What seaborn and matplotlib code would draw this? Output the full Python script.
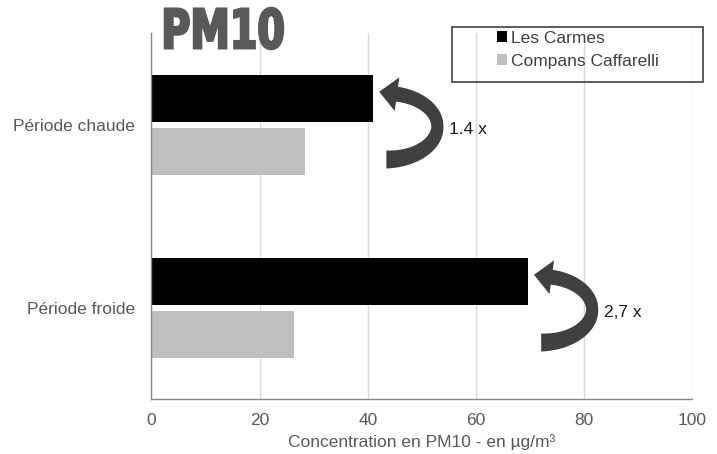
import numpy as np
import pandas as pd
import seaborn as sns
import matplotlib.pyplot as plt
from matplotlib.textpath import TextPath
from matplotlib.patches import PathPatch, Polygon, Rectangle
from matplotlib.font_manager import FontProperties
from matplotlib.transforms import Affine2D, IdentityTransform

# --- data -------------------------------------------------------------
periodes = ["Période chaude", "Période froide"]
stations = ["Les Carmes", "Compans Caffarelli"]
les_carmes = [41.0, 69.6]
compans_caffarelli = [28.4, 26.3]
ratios = ["1.4 x", "2,7 x"]
x_ticks = [0, 20, 40, 60, 80, 100]
couleurs = ["#000000", "#bfbfbf"]

df = pd.DataFrame({
    "periode": periodes * 2,
    "station": [stations[0]] * len(periodes) + [stations[1]] * len(periodes),
    "valeur": les_carmes + compans_caffarelli,
})

sns.set_style("white")
plt.rcParams["font.family"] = ["Liberation Sans", "DejaVu Sans"]
FS = 12.5
GRIS_TEXTE = "#595959"

fig = plt.figure(figsize=(7.17, 4.54), dpi=100)
ax = fig.add_axes([0.2110, 0.1205, 0.7548, 0.8062])

sns.barplot(data=df, x="valeur", y="periode", hue="station",
            order=periodes, hue_order=stations, palette=couleurs,
            orient="h", width=0.58, gap=0.11, errorbar=None,
            linewidth=0, saturation=1, ax=ax)

ax.set_xlim(0, 100)
ax.set_ylim(1.5, -0.5)
ax.set_xticks(x_ticks)
ax.set_xticklabels([str(t) for t in x_ticks])
ax.grid(axis="x", color="#d9d9d9", lw=1)
ax.set_axisbelow(True)
for side in ("top", "right"):
    ax.spines[side].set_visible(False)
for side in ("left", "bottom"):
    ax.spines[side].set_color("#868686")
    ax.spines[side].set_linewidth(1.0)
ax.tick_params(axis="both", length=0, labelsize=FS, labelcolor=GRIS_TEXTE)
ax.tick_params(axis="y", pad=11.5)
ax.tick_params(axis="x", pad=10)
ax.set_ylabel("")
ax.set_xlabel("Concentration en PM10 - en µg/m³", fontsize=FS,
              color=GRIS_TEXTE, labelpad=4)

# --- legend inside its own frame -------------------------------------
handles, labels = ax.get_legend_handles_labels()
ax.get_legend().remove()
ax.legend(handles, labels, frameon=False, loc="upper left",
          bbox_to_anchor=(0.6925, 0.9324), bbox_transform=fig.transFigure,
          borderpad=0, borderaxespad=0, handlelength=0.62, handleheight=0.62,
          handletextpad=0.2, labelspacing=0.45, fontsize=FS,
          labelcolor="#404040")
fig.add_artist(Rectangle((0.630, 0.8194), 0.3505, 0.1211,
                         transform=fig.transFigure, fill=False,
                         edgecolor="#404040", lw=1.2))

# --- curved ratio arrows ---------------------------------------------
def fleche_courbe(px, py, couleur="#404040"):
    """Thick C-shaped arrow whose head points back at a bar end (display px)."""
    a, b = 51.0, 33.0
    phi = np.radians(np.linspace(-90, 78, 80))
    cx, cy = a * np.cos(phi), -b * np.sin(phi)           # y grows downward
    tx, ty = -a * np.sin(phi), -b * np.cos(phi)
    norm = np.hypot(tx, ty)
    tx, ty = tx / norm, ty / norm
    nx, ny = -ty, tx                                      # outward normal
    w = np.interp(np.degrees(phi), [-90, 0, 78], [9.0, 6.0, 7.5])
    outer = np.column_stack([cx + w * nx, cy + w * ny])
    inner = np.column_stack([cx - w * nx, cy - w * ny])
    base = np.array([cx[-1], cy[-1]])
    u = np.array([tx[-1], ty[-1]])
    n = np.array([nx[-1], ny[-1]])
    pointe = base + 18 * u
    pts = np.vstack([outer, base + 17 * n, pointe, base - 17 * n, inner[::-1]])
    cible = np.array([px + 6.0, py + 6.5])
    disp = np.column_stack([cible[0] + (pts[:, 0] - pointe[0]),
                            cible[1] - (pts[:, 1] - pointe[1])])
    return Polygon(disp, closed=True, facecolor=couleur, edgecolor="none",
                   transform=IdentityTransform(), clip_on=False, zorder=5)

for barre, valeur, ratio, i in zip(ax.containers[0], les_carmes, ratios,
                                   range(len(periodes))):
    yc = barre.get_y() + barre.get_height() / 2
    px, py = ax.transData.transform((barre.get_width(), yc))
    ax.add_artist(fleche_courbe(px, py))
    ax.text(valeur + 14.0, i + 0.025, ratio, ha="left", va="center",
            fontsize=FS, color="#1a1a1a")

# --- heavy "PM10" heading --------------------------------------------
tp = TextPath((0, 0), "PM10", size=100,
              prop=FontProperties(family="DejaVu Sans", weight="bold"))
ext = tp.get_extents()
X0, Y0, W, H = 165, 454 - 49, 118, 41
tr = (Affine2D().translate(-ext.x0, -ext.y0)
      .scale(W / ext.width, H / ext.height).translate(X0, Y0))
fig.add_artist(PathPatch(tr.transform_path(tp), facecolor="#595959",
                         edgecolor="#595959", lw=1.8,
                         transform=IdentityTransform(), zorder=6))

fig.savefig("out.png", dpi=100)
